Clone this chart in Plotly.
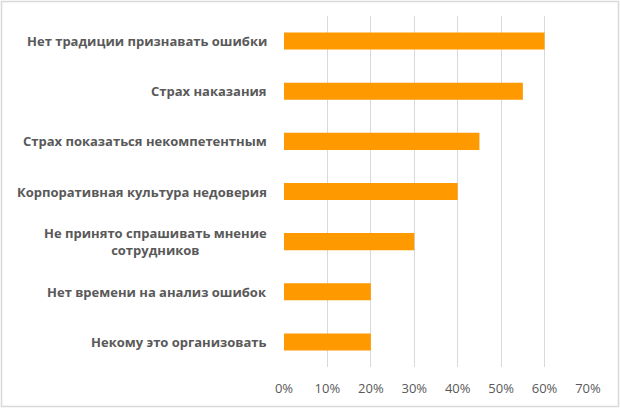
import plotly.graph_objects as go

# Причины, по которым ошибки не разбираются
reasons = [
    "Нет традиции признавать ошибки",
    "Страх наказания",
    "Страх показаться некомпетентным",
    "Корпоративная культура недоверия",
    "Не принято спрашивать мнение<br>сотрудников",
    "Нет времени на анализ ошибок",
    "Некому это организовать",
]
shares = [0.60, 0.55, 0.45, 0.40, 0.30, 0.20, 0.20]
x_ticks = [0, 0.1, 0.2, 0.3, 0.4, 0.5, 0.6, 0.7]
x_tick_labels = ["0%", "10%", "20%", "30%", "40%", "50%", "60%", "70%"]

W, H = 620, 408
ml, mr, mt, mb = 284, 32, 16, 41
pw, ph = W - ml - mr, H - mt - mb

fig = go.Figure()
fig.add_trace(go.Bar(
    x=shares, y=reasons, orientation="h",
    marker=dict(color="#ff9900", line=dict(width=0)),
    hoverinfo="skip",
))

# подписи категорий (центрированные многострочные)
for r in reasons:
    fig.add_annotation(
        x=0, xref="paper", y=r, yref="y", text=r, showarrow=False,
        xanchor="right", xshift=-15, align="center",
        font=dict(family="Open Sans", size=13, color="#595959", weight="bold"),
    )

# рамка вокруг всей картинки
fig.add_shape(
    type="rect", xref="paper", yref="paper",
    x0=(1.5 - ml) / pw, x1=(W - 1.5 - ml) / pw,
    y0=(1.5 - mb) / ph, y1=(H - 1.5 - mb) / ph,
    line=dict(color="#d9d9d9", width=1.5), layer="above",
)

fig.update_layout(
    width=W, height=H,
    margin=dict(l=ml, r=mr, t=mt, b=mb),
    paper_bgcolor="white", plot_bgcolor="white",
    bargap=0.66, showlegend=False,
    font=dict(family="Open Sans", color="#595959"),
)
fig.update_xaxes(
    range=[0, 0.7], tickvals=x_ticks, ticktext=x_tick_labels,
    showgrid=True, gridcolor="#d9d9d9", gridwidth=1,
    zeroline=False, showline=False, ticks="",
    tickfont=dict(size=13, color="#595959"), ticklabelstandoff=12,
    fixedrange=True,
)
fig.update_yaxes(
    autorange="reversed", showticklabels=False, showgrid=False,
    zeroline=False, showline=False, ticks="", fixedrange=True,
)

fig.write_html("out.html", config={"displayModeBar": False},
               post_script="document.body.style.margin='0';")
